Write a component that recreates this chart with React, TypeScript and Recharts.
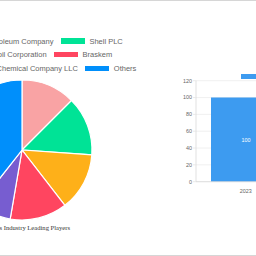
import React from 'react'
import { PieChart, Pie, Cell, BarChart, Bar, XAxis, YAxis, CartesianGrid, LabelList } from 'recharts'

// pie: share of leading players (clockwise from 12 o'clock)
const playerNames = [
  'Reliance Petroleum Company',
  'Shell PLC',
  'Exxon Mobil Corporation',
  'Braskem',
  'Chevron Phillips Chemical Company LLC',
  'Others',
]
const playerShares = [12.5, 13.6, 13.4, 13.2, 7.9, 39.4]
const playerColors = ['#F9A3A4', '#00E396', '#FEB019', '#FF4560', '#775DD0', '#008FFB']

// bar: market size by year
const years = ['2023']
const marketSize = [100]
const yTicks = [0, 20, 40, 60, 80, 100, 120]

const pieData = playerNames.map((name, i) => ({ name, value: playerShares[i] }))
const barData = years.map((year, i) => ({ year, value: marketSize[i] }))

const legendRows: number[][] = []
for (let i = 0; i < playerNames.length; i += 2) legendRows.push([i, i + 1])

const sans = '"Liberation Sans", Arial, sans-serif'

export default function App() {
  return (
    <div
      style={{
        position: 'fixed',
        left: 0,
        top: 0,
        width: 256,
        height: 256,
        overflow: 'hidden',
        background: '#fff',
        fontFamily: sans,
      }}
    >
      <div style={{ position: 'absolute', left: 0, top: 0, width: 256, height: 1, background: '#d6d6d6' }} />
      <div style={{ position: 'absolute', left: 0, top: 255, width: 256, height: 1, background: '#d6d6d6' }} />

      {/* pie legend, two items per row, centred */}
      {legendRows.map((row, r) => (
        <div
          key={r}
          style={{
            position: 'absolute',
            left: 24 - 200,
            width: 400,
            top: 34 + r * 13.8,
            height: 14,
            display: 'flex',
            justifyContent: 'center',
            alignItems: 'center',
            whiteSpace: 'nowrap',
          }}
        >
          {row.map((idx, k) => (
            <div key={idx} style={{ display: 'flex', alignItems: 'center', marginRight: k === 0 ? 7.4 : 0 }}>
              <span style={{ width: 24, height: 5.4, background: playerColors[idx], marginRight: 4.6 }} />
              <span style={{ fontSize: 7.5, color: '#666', lineHeight: '9px' }}>{playerNames[idx]}</span>
            </div>
          ))}
        </div>
      ))}

      <div style={{ position: 'absolute', left: 22 - 150, top: 0 }}>
        <PieChart width={300} height={256} margin={{ top: 0, right: 0, bottom: 0, left: 0 }}>
          <Pie
            data={pieData}
            dataKey="value"
            nameKey="name"
            cx={150}
            cy={150}
            outerRadius={70}
            startAngle={90}
            endAngle={-270}
            stroke="#fff"
            strokeWidth={1.2}
            isAnimationActive={false}
          >
            {pieData.map((d, i) => (
              <Cell key={d.name} fill={playerColors[i]} />
            ))}
          </Pie>
        </PieChart>
      </div>

      <div
        style={{
          position: 'absolute',
          left: 70 - 200,
          width: 200,
          top: 223.5,
          textAlign: 'right',
          fontFamily: '"Liberation Serif", "Times New Roman", serif',
          fontSize: 6.6,
          lineHeight: '8px',
          color: '#333',
          whiteSpace: 'nowrap',
        }}
      >
        Resins Industry Leading Players
      </div>

      {/* bar legend */}
      <div style={{ position: 'absolute', left: 240.7, top: 71.8, display: 'flex', alignItems: 'center', whiteSpace: 'nowrap' }}>
        <span style={{ width: 24, height: 4.6, background: '#3d9bf0', marginRight: 4.6 }} />
        <span style={{ fontSize: 7.5, color: '#666' }}>Market Size</span>
      </div>

      <div style={{ position: 'absolute', left: 160, top: 0 }}>
        <BarChart
          width={200}
          height={256}
          data={barData}
          margin={{ top: 80.7, right: 64.6, bottom: 54.3, left: 0 }}
        >
          <CartesianGrid stroke="#ececec" strokeWidth={0.8} vertical={false} />
          <XAxis
            dataKey="year"
            height={20}
            tick={{ fill: '#666', fontSize: 5.4 }}
            tickLine={false}
            tickMargin={1}
            axisLine={{ stroke: '#d9d9d9', strokeWidth: 0.8 }}
          />
          <YAxis
            width={36}
            domain={[0, 120]}
            ticks={yTicks}
            interval={0}
            tick={{ fill: '#666', fontSize: 5.4 }}
            tickSize={3}
            tickMargin={1}
            tickLine={{ stroke: '#e4e4e4', strokeWidth: 0.8 }}
            axisLine={{ stroke: '#d9d9d9', strokeWidth: 0.8 }}
          />
          <Bar dataKey="value" fill="#3d9bf0" barSize={70} isAnimationActive={false}>
            <LabelList dataKey="value" position="center" fill="#fff" fontSize={5.4} />
          </Bar>
        </BarChart>
      </div>
    </div>
  )
}
